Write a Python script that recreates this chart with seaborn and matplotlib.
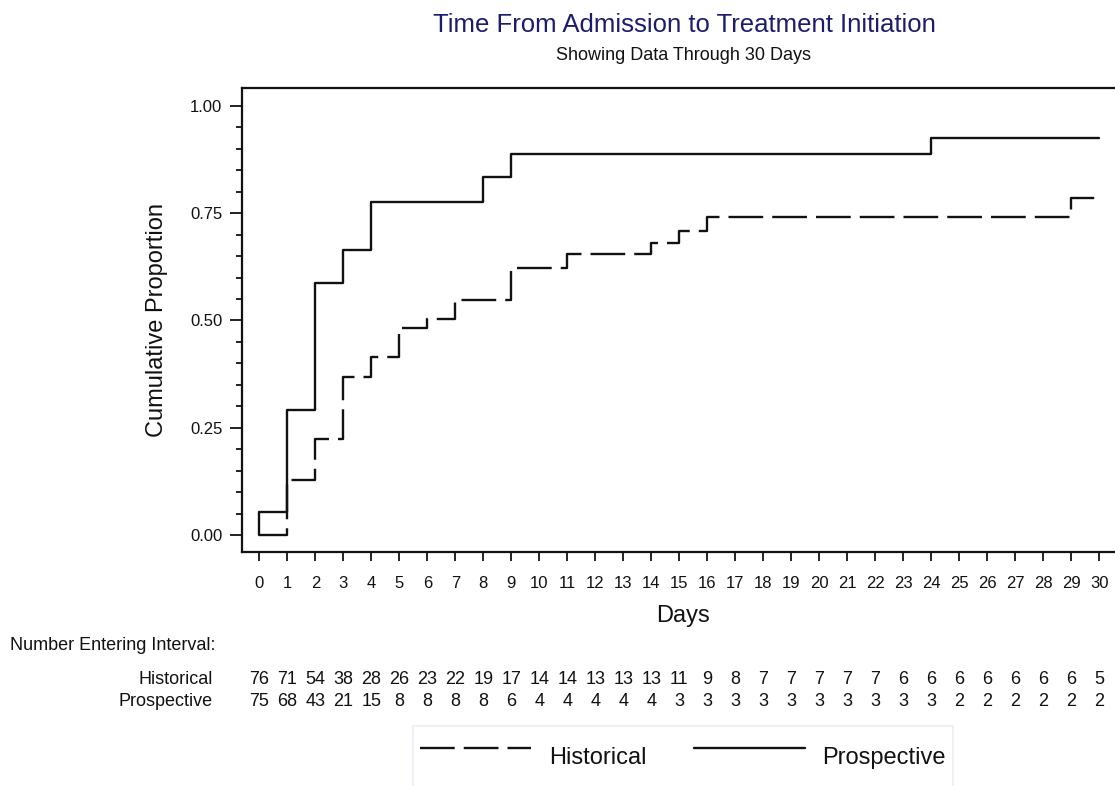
import pandas as pd
import matplotlib
matplotlib.use('Agg')
import matplotlib.pyplot as plt
import seaborn as sns
from matplotlib.ticker import MultipleLocator, FormatStrFormatter
from matplotlib.lines import Line2D

# Cumulative proportion curves (step changes only)
hist_days = [0, 1, 2, 3, 4, 5, 6, 7, 9, 11, 14, 15, 16, 29, 30]
hist_prop = [0.0, 0.128, 0.224, 0.369, 0.414, 0.482, 0.503, 0.548, 0.623,
             0.655, 0.681, 0.709, 0.742, 0.785, 0.785]
prosp_days = [0, 0, 1, 2, 3, 4, 8, 9, 24, 30]
prosp_prop = [0.0, 0.053, 0.291, 0.588, 0.664, 0.777, 0.834, 0.888, 0.925, 0.925]

# Number entering interval table
table_days = list(range(31))
hist_n = [76, 71, 54, 38, 28, 26, 23, 22, 19, 17, 14, 14, 13, 13, 13, 11, 9, 8,
          7, 7, 7, 7, 7, 6, 6, 6, 6, 6, 6, 6, 5]
prosp_n = [75, 68, 43, 21, 15, 8, 8, 8, 8, 6, 4, 4, 4, 4, 4, 3, 3, 3, 3, 3, 3,
           3, 3, 3, 3, 2, 2, 2, 2, 2, 2]
groups = ['Historical', 'Prospective']

ink = '#111111'
sns.set_theme(style='ticks')
plt.rcParams['font.family'] = ['Liberation Sans', 'DejaVu Sans']
plt.rcParams['lines.scale_dashes'] = False
plt.rcParams.update({'text.color': ink, 'axes.labelcolor': ink,
                     'xtick.color': ink, 'ytick.color': ink})

df = pd.concat([
    pd.DataFrame({'Days': hist_days, 'prop': hist_prop, 'group': groups[0]}),
    pd.DataFrame({'Days': prosp_days, 'prop': prosp_prop, 'group': groups[1]}),
])

W, H = 1115, 786
fig = plt.figure(figsize=(W / 100, H / 100), dpi=100)
ax = fig.add_axes([241.7 / W, 1 - 551.7 / H, (1118 - 241.7) / W, (551.7 - 88) / H])

dash = (25, 6.5)
sns.lineplot(data=df, x='Days', y='prop', hue='group', style='group',
             palette={g: ink for g in groups},
             dashes={groups[0]: dash, groups[1]: ''},
             estimator=None, drawstyle='steps-post', linewidth=1.7,
             legend=False, ax=ax)

ax.set_xlim(-0.63, 30.67)
ax.set_ylim(-0.039, 1.042)
ax.set_xticks(table_days)
ax.yaxis.set_major_locator(MultipleLocator(0.25))
ax.yaxis.set_minor_locator(MultipleLocator(0.05))
ax.yaxis.set_major_formatter(FormatStrFormatter('%.2f'))
ax.tick_params(axis='x', which='major', length=6.5, width=1.3, pad=11,
               labelsize=12)
ax.tick_params(axis='y', which='major', length=8.5, width=1.3, pad=5.5,
               labelsize=12)
ax.tick_params(axis='y', which='minor', length=4, width=1.3)
for s in ax.spines.values():
    s.set_linewidth(1.6)
    s.set_color(ink)

ax.set_xlabel('Days', fontsize=17)
ax.set_ylabel('Cumulative Proportion', fontsize=17)
ax.xaxis.set_label_coords((683 - 241.7) / (1118 - 241.7), (551.7 - 605) / 463.7)
ax.yaxis.set_label_coords((168 - 241.7) / (1118 - 241.7), 0.5)

fig.text(684 / W, 1 - 25 / H, 'Time From Admission to Treatment Initiation',
         ha='center', va='center', fontsize=18.5, color='#1c1c6e')
fig.text(683.5 / W, 1 - 56 / H, 'Showing Data Through 30 Days',
         ha='center', va='center', fontsize=13)

# risk table under the axis
fig.text(10 / W, 1 - 645 / H, 'Number Entering Interval:', ha='left',
         va='center', fontsize=13)
trans = ax.get_xaxis_transform()
row_y = [680, 701.5]
for g, counts, yp in zip(groups, [hist_n, prosp_n], row_y):
    ya = (551.7 - yp) / 463.7
    ax.text(-0.63 - (241.7 - 213) / 28, ya, g, transform=trans, ha='right',
            va='center', fontsize=13, clip_on=False)
    for d, n in zip(table_days, counts):
        ax.text(d, ya, str(n), transform=trans, ha='center', va='center',
                fontsize=13, clip_on=False)

handles = [Line2D([], [], color=ink, lw=1.7, dashes=dash),
           Line2D([], [], color=ink, lw=1.7)]
leg = fig.legend(handles, groups, loc='center', ncol=2,
                 bbox_to_anchor=(683 / W, 1 - 757 / H), fontsize=17,
                 handlelength=4.7, handleheight=2.8, handletextpad=0.75,
                 columnspacing=2.0, borderpad=0.3, frameon=True,
                 fancybox=False, edgecolor='#e2ebf3')
leg.get_frame().set_linewidth(1.2)

fig.savefig('out.png', dpi=100)
plt.close(fig)
